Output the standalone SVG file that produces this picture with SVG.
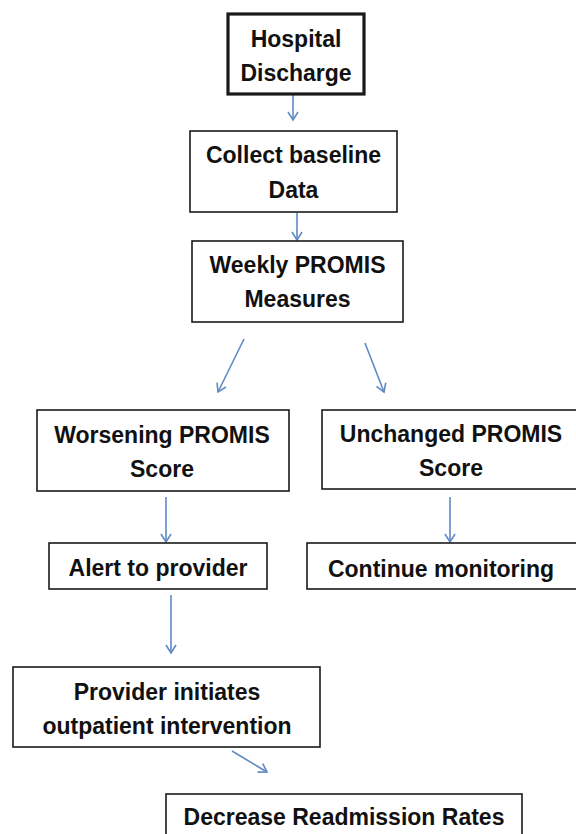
<svg xmlns="http://www.w3.org/2000/svg" width="576" height="834" viewBox="0 0 576 834">
<style>
.box{fill:#fff;stroke:#1a1a1a;stroke-width:1.6}
.thick{stroke-width:3.2}
.t{font-family:"Liberation Sans",Arial,sans-serif;font-weight:bold;font-size:23px;fill:#111;text-anchor:middle}
.c{stroke:#5f8ac6;stroke-width:1.6;fill:none;marker-end:url(#ah)}
</style>
<defs>
<marker id="ah" markerUnits="userSpaceOnUse" viewBox="-10 -6 12 12" refX="0" refY="0" markerWidth="12" markerHeight="12" orient="auto">
<path d="M-8,-5 L0,0 L-8,5" fill="none" stroke="#5f8ac6" stroke-width="1.6"/>
</marker>
</defs>
<rect width="576" height="834" fill="#fff"/>
<g id="connectors">
<line class="c" x1="293" y1="95" x2="293" y2="120"/>
<line class="c" x1="297" y1="213" x2="297" y2="240"/>
<line class="c" x1="244" y1="339" x2="218" y2="392"/>
<line class="c" x1="365" y1="343" x2="384" y2="392"/>
<line class="c" x1="166" y1="497" x2="166" y2="542"/>
<line class="c" x1="450" y1="497" x2="450" y2="542"/>
<line class="c" x1="171" y1="595" x2="171" y2="653"/>
<line class="c" x1="232" y1="751" x2="267" y2="772"/>
</g>
<g id="hospital">
<rect class="box thick" x="228" y="14" width="136" height="80"/>
<text class="t" x="296" y="47">Hospital</text>
<text class="t" x="296" y="81">Discharge</text>
</g>
<g id="collect">
<rect class="box" x="190" y="131" width="207" height="81"/>
<text class="t" x="293.5" y="163">Collect baseline</text>
<text class="t" x="293.5" y="198">Data</text>
</g>
<g id="weekly">
<rect class="box" x="192" y="241" width="211" height="81"/>
<text class="t" x="297.5" y="273">Weekly PROMIS</text>
<text class="t" x="297.5" y="307">Measures</text>
</g>
<g id="worsening">
<rect class="box" x="37" y="410" width="252" height="81"/>
<text class="t" x="162" y="443">Worsening PROMIS</text>
<text class="t" x="162" y="477">Score</text>
</g>
<g id="unchanged">
<rect class="box" x="322" y="410" width="260" height="79"/>
<text class="t" x="451" y="442">Unchanged PROMIS</text>
<text class="t" x="451" y="476">Score</text>
</g>
<g id="alert">
<rect class="box" x="49" y="543" width="218" height="46"/>
<text class="t" x="158" y="576">Alert to provider</text>
</g>
<g id="continue">
<rect class="box" x="307" y="543" width="275" height="46"/>
<text class="t" x="441" y="577">Continue monitoring</text>
</g>
<g id="provider">
<rect class="box" x="13" y="667" width="307" height="80"/>
<text class="t" x="167" y="700">Provider initiates</text>
<text class="t" x="167" y="734">outpatient intervention</text>
</g>
<g id="decrease">
<rect class="box" x="166" y="794" width="356" height="50"/>
<text class="t" x="344" y="825">Decrease Readmission Rates</text>
</g>
</svg>
